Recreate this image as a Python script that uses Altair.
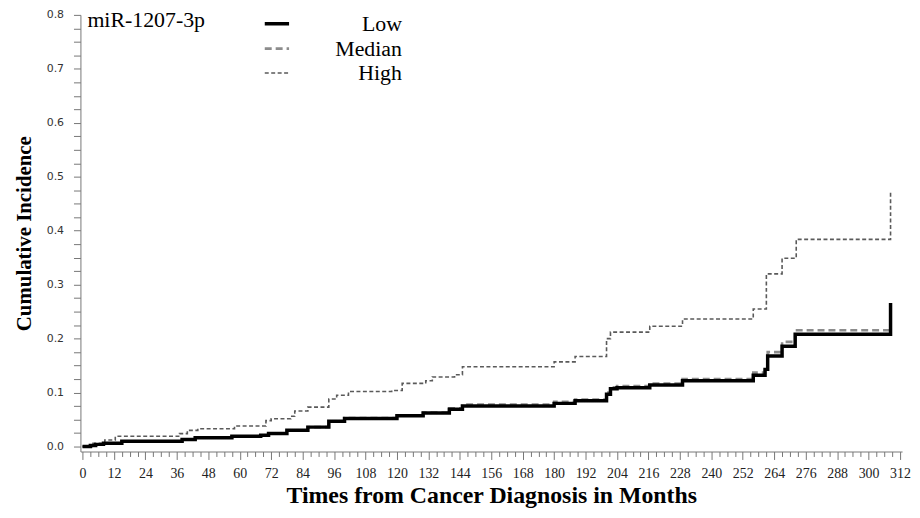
import altair as alt
import pandas as pd

series_names = ["Low", "Median", "High"]

low_t = [0, 3, 5, 8, 15, 38, 43, 57, 68, 71, 78, 86, 94, 100, 120, 130, 140, 145,
         180, 188, 200, 201.5, 204, 216.5, 229, 256, 260.5, 261.5, 267, 272, 308.4, 308.4]
low_v = [0, 0.002, 0.004, 0.006, 0.010, 0.013, 0.0165, 0.019, 0.021, 0.024, 0.030, 0.036,
         0.047, 0.052, 0.057, 0.062, 0.069, 0.075, 0.080, 0.085, 0.097, 0.107, 0.109, 0.114,
         0.122, 0.132, 0.143, 0.168, 0.186, 0.208, 0.208, 0.266]

med_t = [0, 3, 5, 8, 15, 38, 43, 57, 68, 71, 78, 86, 94, 100, 120, 130, 140, 145,
         180, 188, 200, 201.5, 204, 216.5, 229, 256, 260.5, 261.5, 267, 272, 308.4]
med_v = [0, 0.002, 0.004, 0.006, 0.010, 0.013, 0.0165, 0.019, 0.021, 0.024, 0.030, 0.036,
         0.047, 0.053, 0.058, 0.063, 0.071, 0.078, 0.083, 0.087, 0.100, 0.110, 0.112, 0.117,
         0.125, 0.137, 0.148, 0.175, 0.194, 0.2157, 0.2157]

high_t = [0, 4, 8.5, 12.5, 37, 40, 44, 58, 70, 72, 79.5, 81, 86, 94, 97, 101.5, 118, 122,
          131, 133.5, 142, 145, 180, 188, 200, 201.5, 216.5, 229, 256, 261, 267, 272.4,
          308.4, 308.4]
high_v = [0, 0.006, 0.012, 0.019, 0.024, 0.030, 0.033, 0.038, 0.048, 0.0515, 0.056, 0.066,
          0.073, 0.088, 0.095, 0.102, 0.104, 0.117, 0.122, 0.129, 0.133, 0.148, 0.157, 0.167,
          0.200, 0.212, 0.223, 0.2365, 0.255, 0.320, 0.349, 0.384, 0.384, 0.471]

x_ticks = list(range(0, 313, 3))
y_ticks = [round(i * 0.025, 3) for i in range(0, 33)]

rows = []
for name, ts, vs in [("Low", low_t, low_v), ("Median", med_t, med_v), ("High", high_t, high_v)]:
    for i, (t, v) in enumerate(zip(ts, vs)):
        rows.append({"series": name, "month": t, "value": v, "idx": i})
df = pd.DataFrame(rows)

SERIF = "Liberation Serif"
legend_title = "miR-1207-3p"

x_enc = alt.X("month:Q",
              scale=alt.Scale(domain=[-0.8, 312.8], nice=False, zero=False),
              axis=alt.Axis(values=x_ticks, labelExpr="datum.value % 12 === 0 ? datum.label : ''",
                            labelOverlap=False, grid=False,
                            tickSize={"condition": {"test": "datum.value % 12 === 0", "value": 8}, "value": 5},
                            tickColor="#777", domainColor="#777",
                            labelFont=SERIF, labelFontSize=14, labelColor="#222", labelPadding=7,
                            title="Times from Cancer Diagnosis in Months",
                            titleFont=SERIF, titleFontSize=24, titleFontWeight="bold",
                            titleColor="black", titleY=51, titleBaseline="alphabetic"))
y_enc = alt.Y("value:Q",
              scale=alt.Scale(domain=[-0.0092, 0.8], nice=False, zero=False),
              axis=alt.Axis(values=y_ticks,
                            labelExpr="abs(datum.value*10 - round(datum.value*10)) < 0.0001 ? format(datum.value, '.1f') : ''",
                            labelOverlap=False, grid=False, tickSize=7,
                            tickColor="#777", domainColor="#777",
                            labelFont="DejaVu Sans", labelFontSize=11, labelColor="#333", labelPadding=10,
                            title="Cumulative Incidence",
                            titleFont=SERIF, titleFontSize=21, titleFontWeight="bold",
                            titleColor="black", titlePadding=12))
color_enc = alt.Color("series:N", sort=series_names,
                      scale=alt.Scale(domain=series_names, range=["#000000", "#8c8c8c", "#5a5a5a"]),
                      title=legend_title)
dash_enc = alt.StrokeDash("series:N", sort=series_names,
                          scale=alt.Scale(domain=series_names, range=[[1, 0], [7, 4], [4, 2.5]]),
                          title=legend_title)
width_enc = alt.StrokeWidth("series:N", sort=series_names,
                            scale=alt.Scale(domain=series_names, range=[3.5, 1.6, 1.3]),
                            title=legend_title)

base = alt.Chart(df).mark_line(interpolate="step-after").encode(
    x=x_enc, y=y_enc, color=color_enc, strokeDash=dash_enc, strokeWidth=width_enc,
    order=alt.Order("idx:Q"),
)

others = base.transform_filter(alt.datum.series != "Low")
low = base.transform_filter(alt.datum.series == "Low")

chart = alt.layer(others, low).properties(
    width=828, height=440,
    autosize=alt.AutoSizeParams(type="none"),
    padding={"left": 73, "top": 5, "right": 10, "bottom": 57},
).configure_view(stroke=None).configure_legend(
    orient="none", legendX=7, legendY=-5,
    titleOrient="left", titleAnchor="start", titleFont=SERIF, titleFontSize=22,
    titleFontWeight="normal", titleColor="black", titlePadding=58,
    labelFont=SERIF, labelFontSize=22, labelColor="black",
    labelAlign="right", labelOffset=112,
    symbolType="stroke", symbolSize=600, rowPadding=0,
)

chart.save("out.html", embed_options={"renderer": "svg", "actions": False})
